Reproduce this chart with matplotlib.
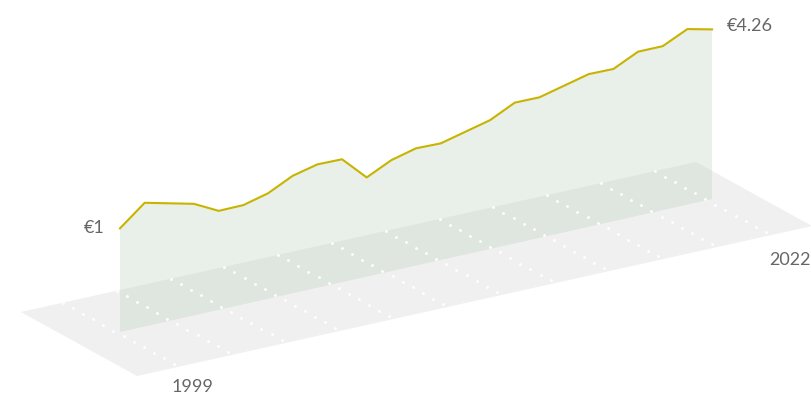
import matplotlib
matplotlib.use("Agg")
import matplotlib.pyplot as plt
from matplotlib.transforms import Affine2D
import numpy as np

# growth of €1 invested at the start of 1999, one value per year end
periods = list(range(25))
values = [1.00, 1.99, 1.69, 1.39, 0.77, 0.78, 1.09, 1.68, 1.97, 1.95, 0.78,
          1.36, 1.67, 1.64, 1.94, 2.24, 2.83, 2.82, 3.12, 3.42, 3.40, 3.98,
          3.98, 4.55, 4.26]
first_year = "1999"
last_year = "2022"
v_floor = -4.12  # value where the wall meets the floor

line_color = "#c8b400"
text_color = "#666666"
font = ["Lato", "DejaVu Sans"]
fsize = 13

W, H = 812, 397
fig = plt.figure(figsize=(W / 100, H / 100), dpi=100)
ax = fig.add_axes([0, 0, 1, 1])
ax.set_xlim(0, W)
ax.set_ylim(H, 0)
ax.axis("off")

# floor: unit square (s = along time, t = depth) mapped to pixels
floor_tf = Affine2D.from_values(675, -150, 116, 64, 21, 312) + ax.transData
# wall: (period, value) mapped to pixels
wall_tf = Affine2D.from_values(24.67, -5.54, 0, -20.245, 120, 248.6) + ax.transData

ax.fill([0, 1, 1, 0], [0, 0, 1, 1], color="#f0f0f0", lw=0, transform=floor_tf)

# dotted grid lines running in depth direction
for k in range(12):
    s = (42 + 53.8 * k) / 675
    t = np.arange(12) * 0.087
    ax.plot(np.full_like(t, s), t, "o", ms=2, color="white", mec="none",
            transform=floor_tf)

# wall under the line
ax.fill(periods + [periods[-1], periods[0]], values + [v_floor, v_floor],
        color="#b8ccb8", alpha=0.3, lw=0, transform=wall_tf)
ax.plot(periods, values, color=line_color, lw=1.5, transform=wall_tf)

ax.annotate("€1", xy=(periods[0], values[0]), xycoords=wall_tf,
            xytext=(-15, 0), textcoords="offset pixels",
            ha="right", va="center", fontsize=fsize, color=text_color, family=font)
ax.annotate(f"€{values[-1]:.2f}", xy=(periods[-1], values[-1]), xycoords=wall_tf,
            xytext=(15, 3), textcoords="offset pixels",
            ha="left", va="center", fontsize=fsize, color=text_color, family=font)

ax.annotate(first_year, xy=(0.0663, 1), xycoords=floor_tf,
            xytext=(11, -21), textcoords="offset pixels",
            ha="center", va="center", fontsize=fsize, color=text_color, family=font)
ax.annotate(last_year, xy=(0.943, 1), xycoords=floor_tf,
            xytext=(37, -25), textcoords="offset pixels",
            ha="right", va="center", fontsize=fsize, color=text_color, family=font)

fig.savefig("out.png", dpi=100)
